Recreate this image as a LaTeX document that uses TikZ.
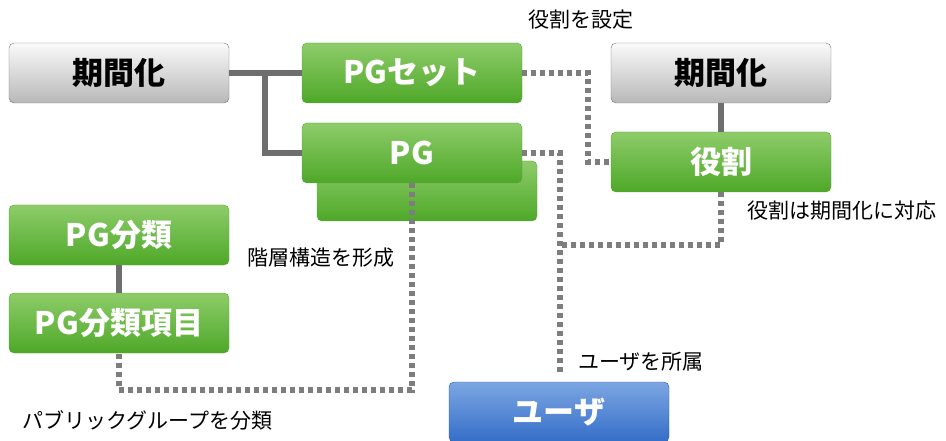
\documentclass[tikz,border=0pt]{standalone}
\usepackage{fontspec}
\setmainfont{Noto Sans CJK JP}
\usetikzlibrary{positioning}
\definecolor{grtop}{RGB}{142,204,106}
\definecolor{grbot}{RGB}{78,168,40}
\definecolor{grline}{RGB}{88,160,60}
\definecolor{gytop}{RGB}{250,250,250}
\definecolor{gybot}{RGB}{184,184,184}
\definecolor{bltop}{RGB}{124,166,226}
\definecolor{blbot}{RGB}{52,110,200}
\definecolor{linkgray}{RGB}{110,110,110}
\begin{document}
\begin{tikzpicture}[x=1pt,y=-1pt,
  box/.style={rounded corners=5pt, minimum width=220pt, minimum height=60pt,
    font=\fontsize{31}{36}\selectfont\bfseries, inner sep=0pt},
  greenbox/.style={box, draw=grline, top color=grtop, bottom color=grbot, text=white},
  graybox/.style={box, draw=black!55, top color=gytop, bottom color=gybot, text=black},
  bluebox/.style={box, draw=blbot!80!black, top color=bltop, bottom color=blbot, text=white},
  tie/.style={draw=linkgray, line width=6pt},
  dots/.style={draw=linkgray!90, line width=5.5pt, dash pattern=on 5pt off 4pt},
  note/.style={font=\fontsize{21}{24}\selectfont, anchor=west, inner sep=0pt}]
\useasboundingbox (0,0) rectangle (946,441);
% boxes
\node[greenbox] (pgback) at (427,191) {};
\node[graybox] (kikan1) at (119,73) {期間化};
\node[greenbox] (pgset) at (412,73) {PGセット};
\node[greenbox] (pg) at (412,153) {PG};
\node[graybox] (kikan2) at (721,73) {期間化};
\node[greenbox] (role) at (721,162) {役割};
\node[greenbox] (pgcls) at (119,235) {PG分類};
\node[greenbox] (pgitem) at (119,323) {PG分類項目};
\node[bluebox] (user) at (559,412) {ユーザ};
% labels
\node[note] (lset) at (528,20) {役割を設定};
\node[note] (lrole) at (747,211) {役割は期間化に対応};
\node[note] (ltree) at (247,258) {階層構造を形成};
\node[note] (lcls) at (22,420) {パブリックグループを分類};
\node[note] (luser) at (578,362) {ユーザを所属};
% solid links
\coordinate (fork) at (265,73);
\path[tie] (kikan1.east) -- (pgset.west);
\path[tie] (fork) |- (pg.west);
\path[tie] (kikan2.south) -- (role.north);
\path[tie] (pgcls.south) -- (pgitem.south |- pgitem.north);
% dotted links
\coordinate (uend) at (560,374);
\coordinate (join) at (560,245);
\path[dots] (pgset.east) -- ++(66,0) |- (role.west);
\path[dots] (pg.east) -| (uend);
\path[dots] (role.south) |- (join);
\path[dots] (pg.south) -- ++(0,207) -| (pgitem.south);
\end{tikzpicture}
\end{document}
